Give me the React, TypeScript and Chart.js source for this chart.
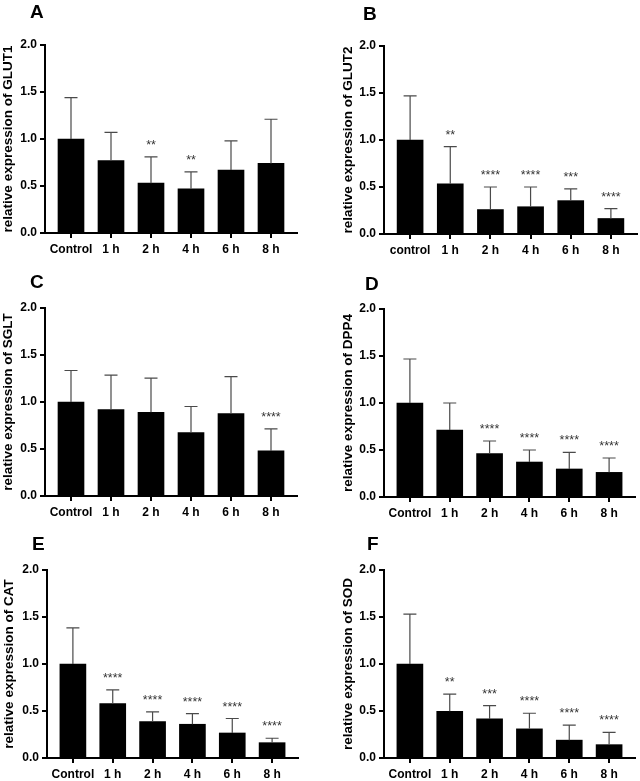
import React, { useEffect, useRef } from 'react';
import { Chart, registerables } from 'chart.js';

Chart.register(...registerables);

// Time points on the x axis (panel B writes "control" in lower case)
const timePoints = ['Control', '1 h', '2 h', '4 h', '6 h', '8 h'];
const timePointsLower = ['control', '1 h', '2 h', '4 h', '6 h', '8 h'];

// A: GLUT1
const glut1Mean = [1.0, 0.77, 0.53, 0.47, 0.67, 0.74];
const glut1Sd = [0.44, 0.3, 0.28, 0.18, 0.31, 0.47];
const glut1Sig = ['', '', '**', '**', '', ''];

// B: GLUT2
const glut2Mean = [1.0, 0.535, 0.26, 0.29, 0.355, 0.165];
const glut2Sd = [0.47, 0.395, 0.24, 0.21, 0.125, 0.105];
const glut2Sig = ['', '**', '****', '****', '***', '****'];

// C: SGLT
const sgltMean = [1.0, 0.92, 0.89, 0.675, 0.877, 0.48];
const sgltSd = [0.335, 0.366, 0.364, 0.277, 0.393, 0.234];
const sgltSig = ['', '', '', '', '', '****'];

// D: DPP4
const dpp4Mean = [1.0, 0.713, 0.461, 0.372, 0.298, 0.262];
const dpp4Sd = [0.468, 0.287, 0.135, 0.128, 0.177, 0.153];
const dpp4Sig = ['', '', '****', '****', '****', '****'];

// E: CAT
const catMean = [1.0, 0.579, 0.387, 0.359, 0.266, 0.163];
const catSd = [0.385, 0.146, 0.103, 0.113, 0.154, 0.047];
const catSig = ['', '****', '****', '****', '****', '****'];

// F: SOD
const sodMean = [1.0, 0.497, 0.416, 0.31, 0.19, 0.142];
const sodSd = [0.53, 0.183, 0.142, 0.166, 0.16, 0.131];
const sodSig = ['', '**', '***', '****', '****', '****'];

const FONT = "'Liberation Sans', Arial, Helvetica, sans-serif";
const W = 320;
const H = 260;

type PanelProps = {
  letter: string;
  gene: string;
  labels: string[];
  mean: number[];
  sd: number[];
  sig: string[];
  left: number;
  top: number;
  axisX: number;
  plotTop: number;
  plotBottom: number;
  xEnd: number;
  titleX: number;
  letterX: number;
  letterY: number;
};

const Panel: React.FC<PanelProps> = (p) => {
  const chartRef = useRef<HTMLCanvasElement | null>(null);

  useEffect(() => {
    if (!chartRef.current) return;

    // upper error whisker + significance stars
    const errorBars = {
      id: 'errorBars',
      afterDatasetsDraw(chart: any) {
        const { ctx } = chart;
        const meta = chart.getDatasetMeta(0);
        const y = chart.scales.y;
        ctx.save();
        meta.data.forEach((bar: any, i: number) => {
          const yBar = y.getPixelForValue(p.mean[i]);
          const yTop = y.getPixelForValue(p.mean[i] + p.sd[i]);
          ctx.strokeStyle = '#4a4a4a';
          ctx.lineWidth = 1.2;
          ctx.beginPath();
          ctx.moveTo(bar.x, yBar);
          ctx.lineTo(bar.x, yTop);
          ctx.moveTo(bar.x - 6.5, yTop);
          ctx.lineTo(bar.x + 6.5, yTop);
          ctx.stroke();
          if (p.sig[i]) {
            ctx.fillStyle = '#333';
            ctx.font = `12.5px ${FONT}`;
            ctx.textAlign = 'center';
            ctx.textBaseline = 'alphabetic';
            ctx.fillText(p.sig[i], bar.x, yTop - 8);
          }
        });
        ctx.restore();
      },
    };

    const titleOffset = 6.75;

    const chart = new Chart(chartRef.current, {
      type: 'bar',
      data: {
        datasets: [
          {
            data: p.mean.map((v, i) => ({ x: i, y: v })),
            backgroundColor: '#000',
            borderWidth: 0,
            barThickness: 26,
          },
        ],
      },
      options: {
        responsive: false,
        animation: false,
        events: [],
        layout: {
          padding: { left: p.titleX - titleOffset, top: p.plotTop, right: W - p.xEnd, bottom: 0 },
        },
        plugins: {
          legend: { display: false },
          tooltip: { enabled: false },
        },
        scales: {
          x: {
            type: 'linear',
            offset: false,
            min: -0.65,
            max: 5.65,
            afterFit: (s: any) => {
              s.height = H - p.plotBottom;
            },
            ticks: {
              stepSize: 1,
              includeBounds: false,
              autoSkip: false,
              maxRotation: 0,
              padding: 4,
              color: '#000',
              font: { family: FONT, size: 12, weight: 'bold' },
              callback: (v: any) => (Number.isInteger(v) ? p.labels[v] : ''),
            },
            grid: {
              offset: false,
              drawOnChartArea: false,
              drawTicks: true,
              tickLength: 5,
              color: '#000',
              lineWidth: 2,
            },
            border: { display: true, color: '#000', width: 2 },
          },
          y: {
            min: 0,
            max: 2,
            afterFit: (s: any) => {
              s.width = p.axisX - (p.titleX - titleOffset);
            },
            ticks: {
              stepSize: 0.5,
              padding: 3,
              color: '#000',
              font: { family: FONT, size: 12, weight: 'bold' },
              callback: (v: any) => Number(v).toFixed(1),
            },
            grid: {
              drawOnChartArea: false,
              drawTicks: true,
              tickLength: 5,
              color: '#000',
              lineWidth: 2,
            },
            border: { display: true, color: '#000', width: 2 },
            title: {
              display: true,
              text: `relative expression of ${p.gene}`,
              color: '#000',
              padding: 0,
              font: { family: FONT, size: 13.5, weight: 'bold', lineHeight: 1 },
            },
          },
        },
      },
      plugins: [errorBars],
    } as any);

    return () => chart.destroy();
  }, []);

  return (
    <div style={{ position: 'absolute', left: p.left, top: p.top, width: W, height: H }}>
      <canvas ref={chartRef} width={W} height={H} style={{ width: W, height: H }} />
      <div
        style={{
          position: 'absolute',
          left: p.letterX,
          top: p.letterY - 2.5,
          fontFamily: FONT,
          fontWeight: 'bold',
          fontSize: 19,
          lineHeight: '18px',
          color: '#000',
        }}
      >
        {p.letter}
      </div>
    </div>
  );
};

const App: React.FC = () => {
  return (
    <div style={{ position: 'absolute', left: 0, top: 0, width: 640, height: 781, background: '#fff' }}>
      <Panel letter="A" gene="GLUT1" labels={timePoints} mean={glut1Mean} sd={glut1Sd} sig={glut1Sig}
        left={0} top={0} axisX={45} plotTop={45} plotBottom={233} xEnd={297} titleX={8} letterX={30} letterY={5} />
      <Panel letter="B" gene="GLUT2" labels={timePointsLower} mean={glut2Mean} sd={glut2Sd} sig={glut2Sig}
        left={320} top={0} axisX={64} plotTop={46} plotBottom={234} xEnd={317} titleX={28} letterX={43} letterY={7} />
      <Panel letter="C" gene="SGLT" labels={timePoints} mean={sgltMean} sd={sgltSd} sig={sgltSig}
        left={0} top={260} axisX={45} plotTop={48} plotBottom={236} xEnd={297} titleX={8} letterX={30} letterY={15} />
      <Panel letter="D" gene="DPP4" labels={timePoints} mean={dpp4Mean} sd={dpp4Sd} sig={dpp4Sig}
        left={320} top={260} axisX={64} plotTop={49} plotBottom={237} xEnd={315} titleX={28} letterX={45} letterY={17} />
      <Panel letter="E" gene="CAT" labels={timePoints} mean={catMean} sd={catSd} sig={catSig}
        left={0} top={520} axisX={47} plotTop={50} plotBottom={238} xEnd={298} titleX={9} letterX={32} letterY={17} />
      <Panel letter="F" gene="SOD" labels={timePoints} mean={sodMean} sd={sodSd} sig={sodSig}
        left={320} top={520} axisX={64} plotTop={50} plotBottom={238} xEnd={315} titleX={28} letterX={47} letterY={17} />
    </div>
  );
};

export default App;
